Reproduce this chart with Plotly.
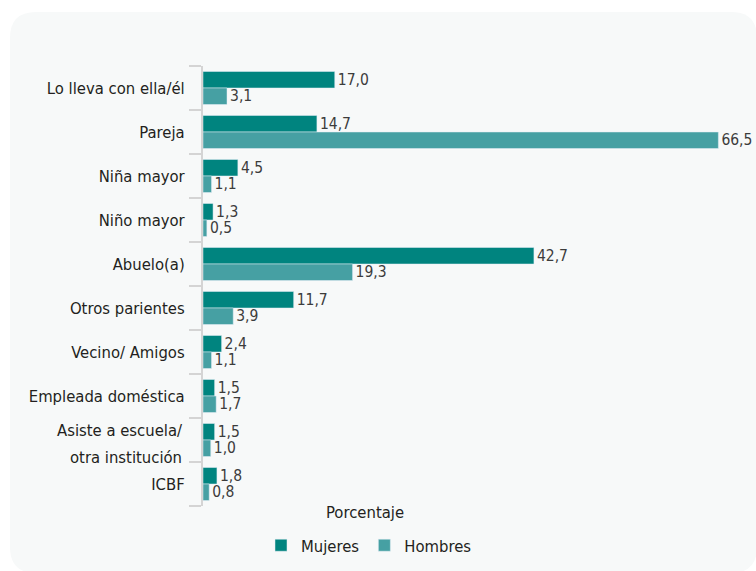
import plotly.graph_objects as go

categories = ["Lo lleva con ella/él", "Pareja", "Niña mayor", "Niño mayor", "Abuelo(a)",
              "Otros parientes", "Vecino/ Amigos", "Empleada doméstica",
              "Asiste a escuela/<br>otra institución", "ICBF"]
mujeres = [17.0, 14.7, 4.5, 1.3, 42.7, 11.7, 2.4, 1.5, 1.5, 1.8]
hombres = [3.1, 66.5, 1.1, 0.5, 19.3, 3.9, 1.1, 1.7, 1.0, 0.8]

FONT = "DejaVu Sans Condensed, DejaVu Sans, sans-serif"

def fmt(v):
    return f"{v:.1f}".replace(".", ",")

W, H = 756, 571
# plot box in page pixels
PL, PR, PT, PB = 203, 740, 66, 506
L, R, T, B = PL, W - PR, PT, H - PB
pw = PR - PL
ph = PB - PT

def px2x(px):
    return (px - PL) / pw

def py2y(py):
    return (PB - py) / ph

VFONT = dict(family=FONT, size=15.5, color="#3c3c3c")
CFONT = dict(family=FONT, size=16.5, color="#231f20")

fig = go.Figure()
fig.add_trace(go.Bar(y=categories, x=mujeres, orientation="h", name="Mujeres",
                     marker_color="#00847f", text=[fmt(v) for v in mujeres],
                     textposition="outside", cliponaxis=False, constraintext="none",
                     textfont=VFONT))
fig.add_trace(go.Bar(y=categories, x=hombres, orientation="h", name="Hombres",
                     marker_color="#46a0a3", text=[fmt(v) for v in hombres],
                     textposition="outside", cliponaxis=False, constraintext="none",
                     textfont=VFONT))

# rounded card background (page pixels)
x0, x1, y0, y1, r = 10, 757, 12, 573, 26
path = (f"M {px2x(x0 + r)},{py2y(y0)} L {px2x(x1 - r)},{py2y(y0)} "
        f"Q {px2x(x1)},{py2y(y0)} {px2x(x1)},{py2y(y0 + r)} "
        f"L {px2x(x1)},{py2y(y1 - r)} Q {px2x(x1)},{py2y(y1)} {px2x(x1 - r)},{py2y(y1)} "
        f"L {px2x(x0 + r)},{py2y(y1)} Q {px2x(x0)},{py2y(y1)} {px2x(x0)},{py2y(y1 - r)} "
        f"L {px2x(x0)},{py2y(y0 + r)} Q {px2x(x0)},{py2y(y0)} {px2x(x0 + r)},{py2y(y0)} Z")

# multi-line category labels drawn as annotations for wider line spacing
ticktext = []
annotations = []
for i, c in enumerate(categories):
    if "<br>" in c:
        ticktext.append("")
        lines = c.split("<br>")
        for line, shift in zip(lines, [10, -17]):
            annotations.append(dict(text=line, xref="paper", yref="y", x=px2x(184), y=c,
                                    xanchor="right", yanchor="middle", yshift=shift,
                                    showarrow=False, font=CFONT))
    else:
        ticktext.append(c)

annotations.append(dict(text="Porcentaje", xref="paper", yref="paper", x=px2x(365), y=py2y(512),
                        xanchor="center", yanchor="middle", showarrow=False,
                        font=dict(family=FONT, size=16.5, color="#231f20")))

fig.update_layout(
    width=W, height=H,
    margin=dict(l=L, r=R, t=T, b=B, pad=0, autoexpand=False),
    paper_bgcolor="white",
    plot_bgcolor="rgba(0,0,0,0)",
    barmode="group", bargap=0.25, bargroupgap=0,
    font=dict(family=FONT, size=16.5, color="#231f20"),
    shapes=[dict(type="path", path=path, xref="paper", yref="paper",
                 fillcolor="#f7f9f9", line=dict(width=0), layer="below")],
    xaxis=dict(range=[0, pw / 7.75], visible=False, showgrid=False, zeroline=False),
    yaxis=dict(autorange="reversed", showgrid=False, zeroline=False,
               showline=True, linecolor="#d4d4d4", linewidth=2,
               ticks="outside", tickson="boundaries", ticklen=12, tickcolor="#d4d4d4",
               tickwidth=2, ticklabelstandoff=13,
               tickmode="array", tickvals=categories, ticktext=ticktext,
               tickfont=CFONT),
    showlegend=True,
    legend=dict(orientation="h", x=px2x(369), xanchor="center", y=py2y(528), yanchor="top",
                font=CFONT, bgcolor="rgba(0,0,0,0)", traceorder="normal"),
    annotations=annotations,
)

fig.write_html("out.html", config={"displayModeBar": False},
               post_script="document.body.style.margin='0';")
